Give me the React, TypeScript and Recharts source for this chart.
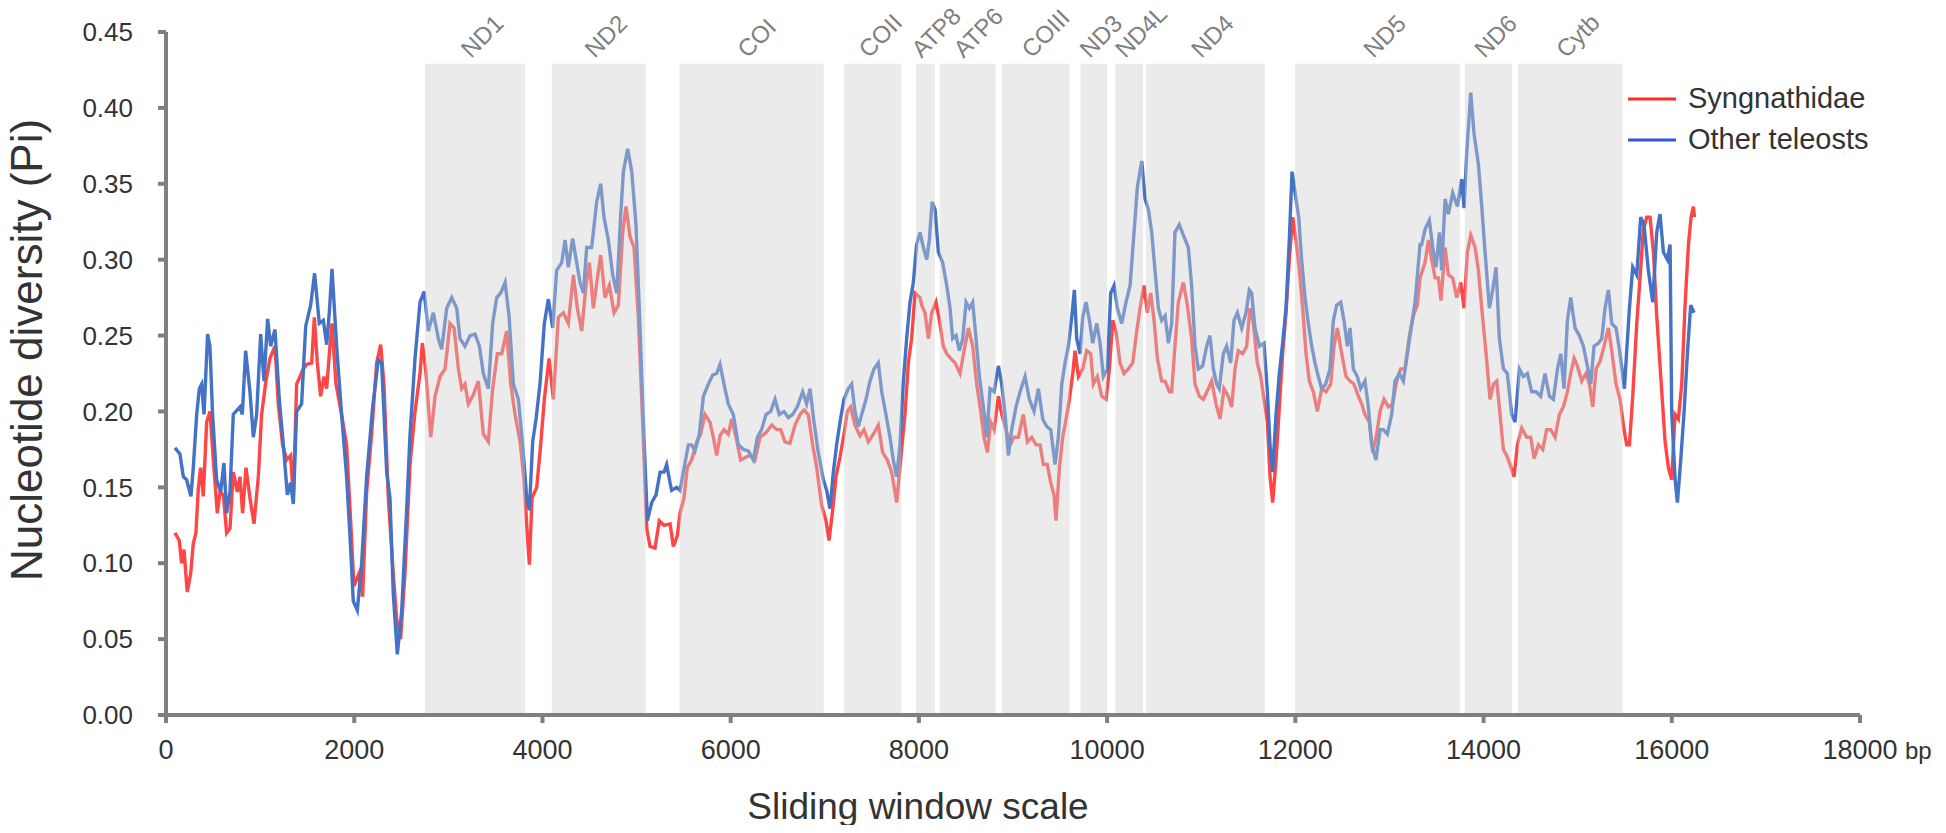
import { Legend, Line, LineChart, ReferenceArea, XAxis, YAxis } from 'recharts';

// sliding-window nucleotide diversity, [position (bp), Pi]
const syngnathidae: [number, number][] = [
  [95, 0.12], [141, 0.115], [166, 0.1], [191, 0.109], [226, 0.081], [262, 0.093], [290, 0.113], [318, 0.12],
  [343, 0.149], [368, 0.163], [396, 0.144], [432, 0.193], [467, 0.2], [503, 0.168], [545, 0.133], [574, 0.147],
  [609, 0.145], [644, 0.12], [680, 0.123], [715, 0.16], [758, 0.147], [786, 0.157], [814, 0.133], [850, 0.163],
  [892, 0.143], [935, 0.126], [981, 0.157], [1016, 0.198], [1062, 0.22], [1105, 0.235], [1158, 0.243], [1193, 0.205],
  [1239, 0.178], [1282, 0.168], [1324, 0.171], [1353, 0.143], [1388, 0.218], [1424, 0.223], [1459, 0.228], [1494, 0.231],
  [1548, 0.232], [1576, 0.262], [1608, 0.232], [1643, 0.21], [1679, 0.223], [1707, 0.215], [1742, 0.243], [1764, 0.258],
  [1806, 0.218], [1866, 0.198], [1919, 0.178], [1962, 0.128], [1997, 0.085], [2050, 0.093], [2089, 0.078], [2132, 0.147],
  [2185, 0.185], [2238, 0.232], [2281, 0.244], [2316, 0.218], [2362, 0.143], [2415, 0.093], [2451, 0.063], [2493, 0.05],
  [2539, 0.093], [2593, 0.165], [2646, 0.2], [2699, 0.225], [2724, 0.245], [2763, 0.225], [2813, 0.183], [2859, 0.21],
  [2912, 0.223], [2965, 0.228], [3018, 0.258], [3061, 0.255], [3107, 0.228], [3142, 0.215], [3177, 0.218], [3213, 0.205],
  [3266, 0.211], [3319, 0.22], [3372, 0.185], [3425, 0.18], [3471, 0.215], [3521, 0.238], [3567, 0.238], [3620, 0.253],
  [3663, 0.218], [3709, 0.198], [3762, 0.18], [3804, 0.155], [3840, 0.118], [3861, 0.099], [3889, 0.143], [3939, 0.15],
  [3981, 0.178], [4020, 0.208], [4070, 0.235], [4116, 0.208], [4169, 0.262], [4222, 0.265], [4275, 0.258], [4329, 0.29],
  [4371, 0.268], [4417, 0.253], [4463, 0.283], [4499, 0.298], [4541, 0.268], [4584, 0.288], [4619, 0.303], [4665, 0.275],
  [4711, 0.283], [4761, 0.265], [4807, 0.27], [4853, 0.318], [4888, 0.335], [4931, 0.315], [4973, 0.308], [5019, 0.262],
  [5065, 0.193], [5108, 0.123], [5143, 0.111], [5196, 0.11], [5242, 0.128], [5292, 0.125], [5356, 0.126], [5391, 0.111],
  [5433, 0.118], [5462, 0.133], [5504, 0.143], [5539, 0.163], [5585, 0.168], [5639, 0.18], [5681, 0.185], [5727, 0.198],
  [5780, 0.193], [5816, 0.183], [5851, 0.171], [5887, 0.184], [5929, 0.188], [5975, 0.185], [6011, 0.195], [6057, 0.183],
  [6106, 0.168], [6163, 0.17], [6212, 0.171], [6258, 0.168], [6312, 0.183], [6375, 0.186], [6436, 0.191], [6489, 0.188],
  [6531, 0.188], [6577, 0.18], [6630, 0.179], [6684, 0.191], [6737, 0.198], [6779, 0.201], [6825, 0.198], [6871, 0.178],
  [6914, 0.163], [6967, 0.138], [7013, 0.128], [7045, 0.115], [7084, 0.135], [7119, 0.157], [7162, 0.17], [7204, 0.185],
  [7240, 0.2], [7275, 0.203], [7321, 0.191], [7374, 0.184], [7417, 0.188], [7463, 0.18], [7516, 0.185], [7569, 0.191],
  [7615, 0.173], [7665, 0.168], [7711, 0.16], [7764, 0.14], [7806, 0.168], [7852, 0.198], [7888, 0.232], [7923, 0.248],
  [7959, 0.278], [8012, 0.275], [8030, 0.27], [8065, 0.265], [8101, 0.248], [8136, 0.265], [8182, 0.272], [8218, 0.26],
  [8260, 0.243], [8296, 0.238], [8338, 0.235], [8384, 0.232], [8437, 0.225], [8480, 0.24], [8526, 0.255], [8572, 0.243],
  [8614, 0.218], [8657, 0.2], [8692, 0.183], [8728, 0.173], [8763, 0.193], [8799, 0.188], [8845, 0.21], [8880, 0.198],
  [8926, 0.188], [8969, 0.178], [9011, 0.183], [9057, 0.183], [9110, 0.198], [9153, 0.18], [9199, 0.183], [9245, 0.178],
  [9287, 0.178], [9323, 0.165], [9365, 0.165], [9401, 0.153], [9436, 0.145], [9457, 0.128], [9493, 0.163], [9528, 0.183],
  [9564, 0.195], [9599, 0.208], [9635, 0.225], [9659, 0.24], [9695, 0.223], [9741, 0.228], [9783, 0.24], [9826, 0.238],
  [9854, 0.218], [9897, 0.223], [9943, 0.21], [9989, 0.208], [10024, 0.228], [10060, 0.26], [10095, 0.253], [10137, 0.232],
  [10180, 0.225], [10226, 0.228], [10272, 0.232], [10315, 0.253], [10350, 0.268], [10392, 0.283], [10428, 0.265], [10463, 0.278],
  [10499, 0.26], [10534, 0.235], [10580, 0.22], [10616, 0.22], [10662, 0.213], [10686, 0.213], [10721, 0.243], [10757, 0.272],
  [10810, 0.285], [10853, 0.27], [10898, 0.248], [10934, 0.218], [10980, 0.21], [11022, 0.208], [11076, 0.215], [11111, 0.22],
  [11157, 0.205], [11200, 0.195], [11242, 0.215], [11288, 0.21], [11324, 0.203], [11359, 0.228], [11394, 0.24], [11440, 0.238],
  [11483, 0.243], [11518, 0.268], [11554, 0.258], [11596, 0.232], [11632, 0.223], [11667, 0.208], [11703, 0.193], [11731, 0.157],
  [11759, 0.14], [11795, 0.168], [11830, 0.203], [11865, 0.238], [11901, 0.265], [11936, 0.3], [11972, 0.328], [12007, 0.313],
  [12043, 0.293], [12078, 0.268], [12114, 0.238], [12149, 0.22], [12191, 0.213], [12234, 0.2], [12280, 0.215], [12326, 0.213],
  [12376, 0.218], [12411, 0.243], [12446, 0.255], [12493, 0.238], [12539, 0.223], [12581, 0.22], [12623, 0.218], [12670, 0.21],
  [12705, 0.205], [12740, 0.198], [12786, 0.193], [12822, 0.173], [12864, 0.185], [12900, 0.2], [12942, 0.208], [12988, 0.203],
  [13034, 0.205], [13077, 0.22], [13119, 0.228], [13166, 0.228], [13212, 0.25], [13254, 0.263], [13296, 0.27], [13325, 0.288],
  [13378, 0.298], [13414, 0.313], [13449, 0.3], [13485, 0.288], [13520, 0.288], [13548, 0.273], [13591, 0.308], [13626, 0.29],
  [13672, 0.288], [13715, 0.275], [13757, 0.285], [13793, 0.268], [13828, 0.305], [13864, 0.316], [13910, 0.308], [13945, 0.293],
  [13981, 0.268], [14027, 0.238], [14069, 0.208], [14105, 0.218], [14140, 0.22], [14175, 0.198], [14211, 0.175], [14253, 0.17],
  [14292, 0.163], [14324, 0.157], [14360, 0.178], [14406, 0.189], [14459, 0.183], [14501, 0.183], [14537, 0.169], [14583, 0.178],
  [14629, 0.175], [14671, 0.188], [14714, 0.188], [14760, 0.183], [14806, 0.198], [14848, 0.203], [14891, 0.213], [14926, 0.225],
  [14962, 0.235], [14997, 0.23], [15043, 0.22], [15089, 0.225], [15125, 0.218], [15160, 0.203], [15196, 0.228], [15238, 0.233],
  [15281, 0.243], [15327, 0.255], [15362, 0.24], [15408, 0.218], [15450, 0.208], [15493, 0.188], [15521, 0.178], [15550, 0.178],
  [15585, 0.21], [15628, 0.258], [15663, 0.288], [15698, 0.32], [15734, 0.328], [15769, 0.328], [15805, 0.305], [15840, 0.263],
  [15883, 0.223], [15929, 0.18], [15964, 0.163], [15999, 0.155], [16035, 0.198], [16070, 0.195], [16106, 0.218], [16141, 0.27],
  [16177, 0.31], [16205, 0.328], [16230, 0.335], [16241, 0.328],
];

const otherTeleosts: [number, number][] = [
  [95, 0.176], [148, 0.172], [184, 0.157], [219, 0.155], [265, 0.144], [290, 0.163], [326, 0.198], [354, 0.215],
  [379, 0.218], [404, 0.198], [442, 0.251], [467, 0.243], [495, 0.198], [538, 0.155], [581, 0.147], [616, 0.166],
  [644, 0.133], [680, 0.147], [715, 0.198], [786, 0.203], [811, 0.198], [846, 0.24], [892, 0.213], [928, 0.183],
  [963, 0.198], [1006, 0.251], [1041, 0.22], [1080, 0.261], [1112, 0.243], [1158, 0.254], [1204, 0.208], [1247, 0.178],
  [1289, 0.145], [1324, 0.153], [1353, 0.139], [1388, 0.2], [1441, 0.205], [1484, 0.256], [1537, 0.27], [1579, 0.291],
  [1629, 0.258], [1672, 0.26], [1707, 0.244], [1735, 0.265], [1764, 0.294], [1813, 0.243], [1866, 0.198], [1919, 0.157],
  [1955, 0.118], [1990, 0.075], [2033, 0.069], [2079, 0.1], [2132, 0.157], [2196, 0.203], [2256, 0.234], [2291, 0.232],
  [2345, 0.16], [2380, 0.143], [2415, 0.08], [2458, 0.04], [2504, 0.068], [2557, 0.135], [2593, 0.185], [2646, 0.235],
  [2699, 0.272], [2742, 0.279], [2788, 0.253], [2841, 0.265], [2894, 0.248], [2929, 0.241], [2983, 0.268], [3036, 0.275],
  [3089, 0.268], [3124, 0.248], [3177, 0.243], [3231, 0.25], [3284, 0.251], [3330, 0.243], [3372, 0.225], [3425, 0.215],
  [3471, 0.258], [3514, 0.275], [3556, 0.278], [3603, 0.285], [3645, 0.263], [3691, 0.218], [3744, 0.208], [3790, 0.178],
  [3833, 0.143], [3861, 0.135], [3896, 0.18], [3932, 0.195], [3974, 0.218], [4020, 0.258], [4063, 0.274], [4109, 0.255],
  [4151, 0.293], [4205, 0.298], [4240, 0.313], [4275, 0.295], [4321, 0.314], [4364, 0.298], [4399, 0.285], [4435, 0.278],
  [4470, 0.308], [4523, 0.308], [4576, 0.338], [4619, 0.35], [4654, 0.328], [4700, 0.313], [4747, 0.29], [4789, 0.278],
  [4832, 0.33], [4860, 0.358], [4906, 0.373], [4949, 0.358], [4994, 0.323], [5037, 0.255], [5072, 0.193], [5115, 0.128],
  [5161, 0.14], [5207, 0.145], [5250, 0.16], [5292, 0.16], [5320, 0.165], [5356, 0.153], [5373, 0.148], [5426, 0.15],
  [5462, 0.148], [5497, 0.16], [5550, 0.178], [5585, 0.178], [5621, 0.174], [5667, 0.185], [5710, 0.21], [5763, 0.218],
  [5809, 0.224], [5851, 0.225], [5887, 0.231], [5929, 0.218], [5975, 0.205], [6028, 0.198], [6081, 0.178], [6135, 0.175],
  [6188, 0.174], [6241, 0.168], [6283, 0.183], [6329, 0.188], [6375, 0.198], [6425, 0.2], [6471, 0.208], [6517, 0.198],
  [6567, 0.2], [6613, 0.196], [6659, 0.198], [6708, 0.203], [6765, 0.213], [6807, 0.205], [6843, 0.215], [6885, 0.193],
  [6931, 0.173], [6985, 0.155], [7020, 0.148], [7055, 0.136], [7091, 0.16], [7126, 0.178], [7162, 0.193], [7204, 0.208],
  [7250, 0.215], [7286, 0.218], [7321, 0.2], [7357, 0.19], [7392, 0.198], [7438, 0.208], [7480, 0.22], [7523, 0.228],
  [7569, 0.232], [7605, 0.213], [7650, 0.198], [7693, 0.183], [7728, 0.168], [7764, 0.157], [7799, 0.178], [7835, 0.22],
  [7870, 0.248], [7906, 0.272], [7941, 0.285], [7976, 0.31], [8012, 0.318], [8048, 0.308], [8083, 0.3], [8111, 0.313],
  [8140, 0.338], [8172, 0.333], [8207, 0.305], [8253, 0.298], [8296, 0.283], [8331, 0.268], [8359, 0.248], [8395, 0.25],
  [8430, 0.24], [8466, 0.248], [8501, 0.272], [8537, 0.268], [8572, 0.272], [8607, 0.248], [8643, 0.223], [8685, 0.203],
  [8721, 0.183], [8756, 0.215], [8799, 0.213], [8845, 0.23], [8880, 0.218], [8916, 0.198], [8951, 0.171], [8986, 0.188],
  [9032, 0.203], [9075, 0.213], [9128, 0.223], [9174, 0.208], [9224, 0.2], [9270, 0.215], [9316, 0.195], [9358, 0.19],
  [9401, 0.188], [9447, 0.165], [9482, 0.183], [9518, 0.218], [9553, 0.232], [9588, 0.243], [9624, 0.262], [9652, 0.28],
  [9677, 0.248], [9712, 0.238], [9741, 0.262], [9776, 0.272], [9812, 0.26], [9847, 0.245], [9890, 0.258], [9925, 0.245],
  [9960, 0.223], [10003, 0.228], [10038, 0.278], [10074, 0.283], [10109, 0.268], [10155, 0.258], [10201, 0.272], [10244, 0.283],
  [10286, 0.318], [10322, 0.348], [10368, 0.365], [10403, 0.34], [10439, 0.333], [10474, 0.318], [10509, 0.293], [10545, 0.268],
  [10580, 0.26], [10616, 0.263], [10651, 0.245], [10686, 0.258], [10721, 0.318], [10767, 0.323], [10817, 0.315], [10863, 0.308],
  [10898, 0.283], [10934, 0.243], [10969, 0.228], [11015, 0.23], [11058, 0.243], [11093, 0.25], [11129, 0.228], [11164, 0.218],
  [11192, 0.215], [11235, 0.238], [11270, 0.243], [11313, 0.232], [11348, 0.26], [11384, 0.265], [11430, 0.255], [11476, 0.265],
  [11511, 0.28], [11536, 0.278], [11571, 0.255], [11618, 0.243], [11667, 0.245], [11703, 0.213], [11731, 0.178], [11759, 0.16],
  [11795, 0.198], [11830, 0.225], [11865, 0.245], [11901, 0.268], [11936, 0.313], [11965, 0.358], [12000, 0.343], [12036, 0.328],
  [12067, 0.3], [12103, 0.275], [12138, 0.258], [12174, 0.243], [12209, 0.232], [12244, 0.223], [12280, 0.215], [12322, 0.218],
  [12368, 0.228], [12404, 0.26], [12439, 0.27], [12482, 0.272], [12517, 0.26], [12553, 0.243], [12581, 0.255], [12616, 0.228],
  [12659, 0.223], [12694, 0.215], [12740, 0.22], [12776, 0.203], [12811, 0.178], [12857, 0.168], [12900, 0.188], [12935, 0.188],
  [12978, 0.185], [13024, 0.198], [13059, 0.22], [13105, 0.225], [13148, 0.22], [13190, 0.238], [13226, 0.253], [13272, 0.272],
  [13325, 0.31], [13343, 0.31], [13378, 0.32], [13424, 0.326], [13460, 0.308], [13495, 0.295], [13531, 0.318], [13555, 0.293],
  [13591, 0.34], [13626, 0.33], [13672, 0.344], [13722, 0.335], [13768, 0.353], [13793, 0.334], [13821, 0.37], [13864, 0.41],
  [13899, 0.383], [13945, 0.363], [13981, 0.335], [14016, 0.305], [14062, 0.268], [14097, 0.28], [14133, 0.295], [14168, 0.248],
  [14211, 0.228], [14253, 0.225], [14299, 0.198], [14335, 0.193], [14381, 0.228], [14423, 0.223], [14466, 0.225], [14512, 0.213],
  [14558, 0.213], [14607, 0.21], [14653, 0.225], [14700, 0.21], [14742, 0.208], [14785, 0.228], [14820, 0.238], [14855, 0.215],
  [14891, 0.26], [14926, 0.275], [14972, 0.255], [15018, 0.25], [15061, 0.243], [15103, 0.23], [15139, 0.218], [15174, 0.243],
  [15220, 0.245], [15256, 0.248], [15291, 0.268], [15327, 0.28], [15362, 0.258], [15408, 0.255], [15450, 0.238], [15497, 0.215],
  [15521, 0.24], [15550, 0.268], [15585, 0.295], [15628, 0.29], [15670, 0.328], [15705, 0.323], [15751, 0.293], [15798, 0.272],
  [15840, 0.318], [15875, 0.33], [15911, 0.305], [15953, 0.3], [15982, 0.31], [15999, 0.2], [16035, 0.155], [16060, 0.14],
  [16095, 0.168], [16131, 0.2], [16166, 0.238], [16201, 0.27], [16237, 0.265],
];

const geneNames = ['ND1', 'ND2', 'COI', 'COII', 'ATP8', 'ATP6', 'COIII', 'ND3', 'ND4L', 'ND4', 'ND5', 'ND6', 'Cytb'];
const geneStart = [2752, 4100, 5456, 7206, 7969, 8221, 8881, 9717, 10087, 10413, 11997, 13801, 14366];
const geneEnd = [3815, 5095, 6989, 7813, 8169, 8814, 9602, 10000, 10381, 11675, 13749, 14305, 15478];
const geneTop = 0.429;
const geneMid = geneStart.map((s, i) => (s + geneEnd[i]) / 2);

const xTicks = [0, 2000, 4000, 6000, 8000, 10000, 12000, 14000, 16000, 18000];
const yTicks = [0, 0.05, 0.1, 0.15, 0.2, 0.25, 0.3, 0.35, 0.4, 0.45];

const RED = '#ff4646';
const BLUE = '#4472c4';
const AXIS = '#7f7f7f';
const TEXT = '#333333';
const FONT = '"Liberation Sans", Arial, sans-serif';

const series = [
  { name: 'Syngnathidae', color: '#ff2b2b', rows: syngnathidae.map(([bp, pi]) => ({ bp, pi })) },
  { name: 'Other teleosts', color: '#3355d8', rows: otherTeleosts.map(([bp, pi]) => ({ bp, pi })) },
];

function XTick({ x, y, payload }: any) {
  return (
    <g>
      <text x={x} y={y + 19} textAnchor="middle" fontSize={27} fill={TEXT} fontFamily={FONT}>
        {payload.value}
      </text>
      {payload.value === 18000 && (
        <text x={x + 45} y={y + 19} fontSize={24} fill={TEXT} fontFamily={FONT}>
          bp
        </text>
      )}
    </g>
  );
}

// gene names sit just above the grey bands, slanted 45 degrees
function GeneTick({ x, payload }: any) {
  const i = geneMid.indexOf(payload.value);
  const gx = x - 4;
  const gy = 59;
  return (
    <text x={gx} y={gy} transform={`rotate(-45, ${gx}, ${gy})`} fontSize={24} fill={AXIS} fontFamily={FONT}>
      {geneNames[i]}
    </text>
  );
}

const XTitle = () => (
  <text x={918} y={819} textAnchor="middle" fontSize={37} fill={TEXT} fontFamily={FONT}>
    Sliding window scale
  </text>
);

const YTitle = () => (
  <text x={42} y={350} transform="rotate(-90, 42, 350)" textAnchor="middle" fontSize={44} fill={TEXT} fontFamily={FONT}>
    Nucleotide diversity (Pi)
  </text>
);

function LegendBox() {
  return (
    <div style={{ fontFamily: FONT, fontSize: 29, color: TEXT }}>
      {series.map((s) => (
        <div key={s.name} style={{ display: 'flex', alignItems: 'center', height: 41 }}>
          <svg width={48} height={4} style={{ marginRight: 12 }}>
            <line x1={0} y1={2} x2={48} y2={2} stroke={s.color} strokeWidth={3} />
          </svg>
          <span>{s.name}</span>
        </div>
      ))}
    </div>
  );
}

export default function App() {
  return (
    <div style={{ margin: -8 }}>
      <LineChart width={1946} height={833} margin={{ top: 0, right: 86, bottom: 0, left: 0 }}>
        <XAxis
          type="number"
          dataKey="bp"
          domain={[0, 18000]}
          ticks={xTicks}
          interval={0}
          height={118}
          axisLine={{ stroke: AXIS, strokeWidth: 4 }}
          tickLine={{ stroke: AXIS, strokeWidth: 4 }}
          tickSize={8}
          tickMargin={17}
          tick={<XTick />}
          label={<XTitle />}
        />
        <XAxis
          xAxisId="genes"
          orientation="top"
          type="number"
          dataKey="bp"
          domain={[0, 18000]}
          allowDataOverflow
          ticks={geneMid}
          interval={0}
          height={32}
          axisLine={false}
          tickLine={false}
          tick={<GeneTick />}
        />
        <YAxis
          type="number"
          domain={[0, 0.45]}
          ticks={yTicks}
          interval={0}
          width={166}
          axisLine={{ stroke: AXIS, strokeWidth: 4 }}
          tickLine={{ stroke: AXIS, strokeWidth: 4 }}
          tickSize={8}
          tickMargin={25}
          tick={{ fontSize: 26, fill: TEXT, fontFamily: FONT }}
          tickFormatter={(v: number) => v.toFixed(2)}
          label={<YTitle />}
        />
        <Line data={series[0].rows} dataKey="pi" name={series[0].name} type="linear" stroke={RED} strokeWidth={3.4} dot={false} isAnimationActive={false} />
        <Line data={series[1].rows} dataKey="pi" name={series[1].name} type="linear" stroke={BLUE} strokeWidth={3.4} dot={false} isAnimationActive={false} />
        {/* invisible copy of one series so the gene axis has data of its own */}
        <Line xAxisId="genes" data={series[1].rows} dataKey="pi" stroke="none" strokeWidth={0} dot={false} activeDot={false} legendType="none" isAnimationActive={false} />
        {geneNames.map((g, i) => (
          <ReferenceArea
            key={g}
            x1={geneStart[i]}
            x2={geneEnd[i]}
            y1={0}
            y2={geneTop}
            fill="#d0d0d0"
            fillOpacity={0.42}
            stroke="none"
            zIndex={450}
          />
        ))}
        <Legend
          layout="horizontal"
          verticalAlign="middle"
          align="center"
          content={() => <LegendBox />}
          wrapperStyle={{ position: 'absolute', top: 78, left: 1628, width: 300, height: 82 }}
        />
      </LineChart>
    </div>
  );
}
